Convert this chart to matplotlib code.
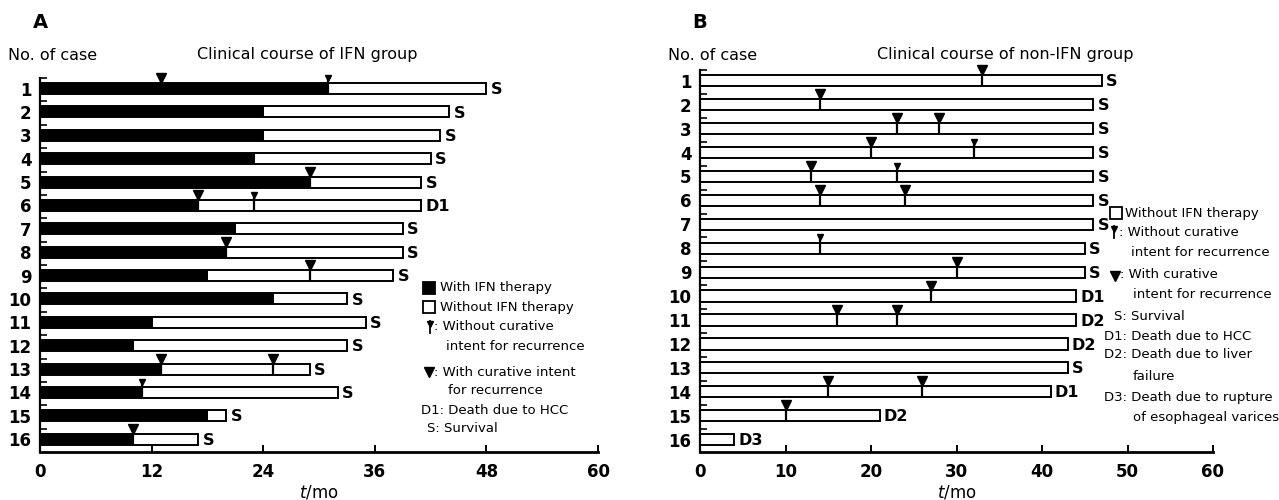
import matplotlib
matplotlib.use("Agg")
import matplotlib.pyplot as plt
import numpy as np

# ---------------- data ----------------
cases = list(range(1, 17))

# Panel A: IFN group
a_ifn = [31, 24, 24, 23, 29, 17, 21, 20, 18, 25, 12, 10, 13, 11, 18, 10]
a_total = [48, 44, 43, 42, 41, 41, 39, 39, 38, 33, 35, 33, 29, 32, 20, 17]
a_outcome = ["S", "S", "S", "S", "S", "D1", "S", "S", "S", "S", "S", "S", "S", "S", "S", "S"]
# events: (case, month, kind)  kind: 'cur' with curative intent, 'non' without curative intent
a_events = [(1, 13, "cur"), (1, 31, "non"), (5, 29, "cur"), (6, 17, "cur"), (6, 23, "non"),
            (8, 20, "cur"), (9, 29, "cur"), (13, 13, "cur"), (13, 25, "cur"),
            (14, 11, "non"), (16, 10, "cur")]
a_xticks = [0, 12, 24, 36, 48, 60]

# Panel B: non-IFN group
b_total = [47, 46, 46, 46, 46, 46, 46, 45, 45, 44, 44, 43, 43, 41, 21, 4]
b_outcome = ["S", "S", "S", "S", "S", "S", "S", "S", "S", "D1", "D2", "D2", "S", "D1", "D2", "D3"]
b_events = [(1, 33, "cur"), (2, 14, "cur"), (3, 23, "cur"), (3, 28, "cur"),
            (4, 20, "cur"), (4, 32, "non"), (5, 13, "cur"), (5, 23, "non"),
            (6, 14, "cur"), (6, 24, "cur"), (8, 14, "non"), (9, 30, "cur"),
            (10, 27, "cur"), (11, 16, "cur"), (11, 23, "cur"),
            (14, 15, "cur"), (14, 26, "cur"), (15, 10, "cur")]
b_xticks = [0, 10, 20, 30, 40, 50, 60]

FONT = "DejaVu Sans"
plt.rcParams["font.family"] = [FONT]

fig = plt.figure(figsize=(12.79, 5.0), dpi=100)

H = 0.47  # bar height in row units


def draw_panel(ax, ifn, total, outcome, events, xticks, ylim):
    rows = np.array(cases)
    ifn = np.array(ifn)
    total = np.array(total)
    ax.barh(rows, total - ifn, left=ifn, height=H, color="white",
            edgecolor="black", linewidth=1.4, zorder=2)
    ax.barh(rows, ifn, height=H, color="black", edgecolor="black",
            linewidth=1.4, zorder=3)
    for r, t, kind in events:
        top = r - H / 2
        ax.plot([t, t], [top - 0.25, r + H / 2], color="black", lw=1.6,
                zorder=4, solid_capstyle="butt")
        if kind == "cur":
            ax.plot(t, top - 0.2, marker="v", ms=7.5, color="black", zorder=5,
                    clip_on=False)
        else:
            ax.plot(t, top - 0.22, marker="v", ms=5, color="black", zorder=5,
                    clip_on=False)
    for r, t, o in zip(rows, total, outcome):
        ax.text(t + 0.5, r + 0.05, o, ha="left", va="center", fontsize=11.5,
                fontweight="bold")
    ax.set_xlim(0, 60)
    ax.set_ylim(*ylim)
    ax.set_xticks(xticks)
    ax.set_xticklabels([str(x) for x in xticks], fontsize=12, fontweight="bold")
    ax.set_yticks(rows)
    ax.set_yticklabels([str(r) for r in rows], fontsize=12, fontweight="bold")
    ax.set_yticks(rows - 0.45, minor=True)
    ax.tick_params(axis="y", which="major", length=0, pad=6)
    ax.tick_params(axis="y", which="minor", direction="in", length=5, width=1.2)
    ax.tick_params(axis="x", which="major", direction="in", length=5, width=1.4, pad=8)
    for s in ("top", "right"):
        ax.spines[s].set_visible(False)
    ax.spines["left"].set_linewidth(1.6)
    ax.spines["bottom"].set_linewidth(2.0)
    ax.set_xlabel("$t$/mo", fontsize=12, labelpad=2)


# Panel A axes
axA = fig.add_axes([40 / 1279, 1 - 452 / 500, 558 / 1279, (452 - 78) / 500])
draw_panel(axA, a_ifn, a_total, a_outcome, a_events, a_xticks, (16.55, 0.55))

# Panel B axes
axB = fig.add_axes([700 / 1279, 1 - 452 / 500, 513 / 1279, (452 - 70) / 500])
draw_panel(axB, [0] * 16, b_total, b_outcome, b_events, b_xticks, (16.52, 0.65))

# ---------------- headers ----------------
HF = 11.5
fig.text(40 / 1279, 1 - 22 / 500, "A", fontsize=14, fontweight="heavy", ha="center", va="center")
fig.text(8 / 1279, 1 - 55 / 500, "No. of case", fontsize=HF, ha="left", va="center")
fig.text(307 / 1279, 1 - 55 / 500, "Clinical course of IFN group", fontsize=HF, ha="center", va="center")
fig.text(700 / 1279, 1 - 22 / 500, "B", fontsize=14, fontweight="heavy", ha="center", va="center")
fig.text(668 / 1279, 1 - 55 / 500, "No. of case", fontsize=HF, ha="left", va="center")
fig.text(1005 / 1279, 1 - 55 / 500, "Clinical course of non-IFN group", fontsize=HF, ha="center", va="center")

# ---------------- legends (overlay in pixel coords) ----------------
ov = fig.add_axes([0, 0, 1, 1], zorder=10)
ov.set_xlim(0, 1279)
ov.set_ylim(500, 0)
ov.axis("off")

LF = 9.5


def sym_fill(x, y, filled):
    ov.plot(x, y, marker="s", ms=8, mfc="black" if filled else "white",
            mec="black", mew=1.3)


def sym_non(x, y):
    ov.plot([x, x], [y - 6, y + 6], color="black", lw=1.3)
    ov.plot(x, y - 3, marker="v", ms=4.5, color="black")


def sym_cur(x, y):
    ov.plot(x, y, marker="v", ms=7, color="black")


# Legend A
sym_fill(429, 288, True)
ov.text(440, 288, "With IFN therapy", fontsize=LF, va="center", ha="left")
sym_fill(429, 307, False)
ov.text(440, 307, "Without IFN therapy", fontsize=LF, va="center", ha="left")
sym_non(430, 327)
ov.text(434, 327, ": Without curative", fontsize=LF, va="center", ha="left")
ov.text(446, 346, "intent for recurrence", fontsize=LF, va="center", ha="left")
sym_cur(429, 372)
ov.text(434, 372, ": With curative intent", fontsize=LF, va="center", ha="left")
ov.text(448, 391, "for recurrence", fontsize=LF, va="center", ha="left")
ov.text(421, 410, "D1: Death due to HCC", fontsize=LF, va="center", ha="left")
ov.text(427, 428, "S: Survival", fontsize=LF, va="center", ha="left")

# Legend B
sym_fill(1116, 213, False)
ov.text(1125, 213, "Without IFN therapy", fontsize=LF, va="center", ha="left")
sym_non(1114, 232)
ov.text(1119, 232, ": Without curative", fontsize=LF, va="center", ha="left")
ov.text(1131, 252, "intent for recurrence", fontsize=LF, va="center", ha="left")
sym_cur(1115, 276)
ov.text(1120, 275, ": With curative", fontsize=LF, va="center", ha="left")
ov.text(1133, 295, "intent for recurrence", fontsize=LF, va="center", ha="left")
ov.text(1114, 317, "S: Survival", fontsize=LF, va="center", ha="left")
ov.text(1104, 336, "D1: Death due to HCC", fontsize=LF, va="center", ha="left")
ov.text(1104, 355, "D2: Death due to liver", fontsize=LF, va="center", ha="left")
ov.text(1133, 376, "failure", fontsize=LF, va="center", ha="left")
ov.text(1104, 398, "D3: Death due to rupture", fontsize=LF, va="center", ha="left")
ov.text(1133, 417, "of esophageal varices", fontsize=LF, va="center", ha="left")

fig.savefig("out.png", dpi=100)
